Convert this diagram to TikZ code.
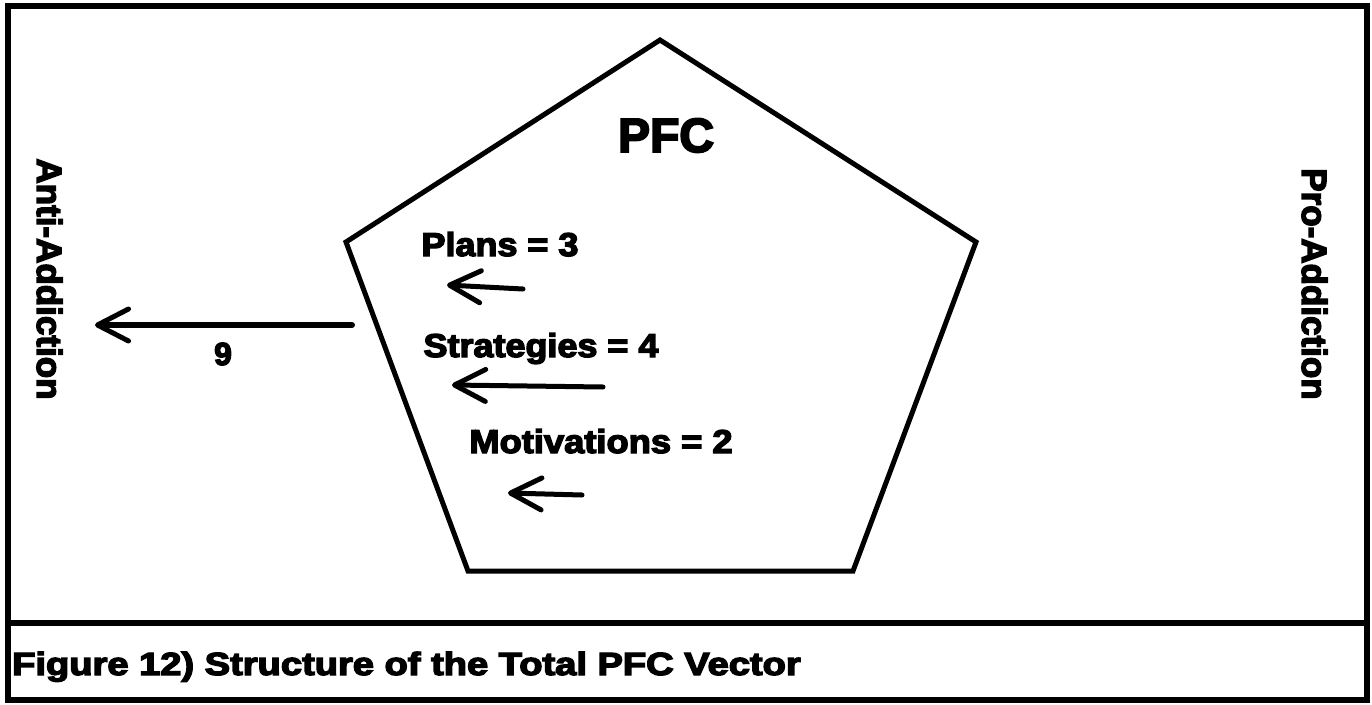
\documentclass[tikz,border=0pt]{standalone}
\usepackage{fontspec}
\setmainfont{Liberation Sans}
\newfontfamily\hv{Liberation Sans Bold}[FakeBold=4]
\usetikzlibrary{arrows.meta}
\begin{document}
\begin{tikzpicture}[x=1pt,y=-1pt,
  lbl/.style={inner sep=0pt, anchor=base},
  inner/.style={lbl, font=\hv\fontsize{33}{38}\selectfont},
  vec/.style={line width=5pt, line cap=round, -{Straight Barb[length=31pt,width=32pt,line width=5pt,round]}},
  frame/.style={line width=6pt},
  penta/.style={line width=5pt, line join=miter},
]
\useasboundingbox (0,0) rectangle (1372,704);
% frames
\draw[frame] (8,6) rectangle (1367,623);
\draw[frame] (8,623) rectangle (1367,700);
% pentagon
\coordinate (pt) at (660,40);
\coordinate (pr) at (976,242);
\coordinate (pbr) at (853,571);
\coordinate (pbl) at (468,571);
\coordinate (pl) at (346,242);
\draw[penta] (pt) -- (pr) -- (pbr) -- (pbl) -- (pl) -- cycle;
% texts
\node[lbl, font=\hv\fontsize{48}{56}\selectfont] (pfc) at (666,152) {PFC};
\node[inner] (plans) at (500,256) {\scalebox{1.09}[1]{Plans = 3}};
\node[inner] (strat) at (541,357) {\scalebox{1.09}[1]{Strategies = 4}};
\node[inner] (motiv) at (601,453) {\scalebox{1.1}[1]{Motivations = 2}};
\node[lbl, font=\hv\fontsize{32}{36}\selectfont] (nine) at (223,365) {9};
\node[lbl, font=\hv\fontsize{35}{40}\selectfont, rotate=-90] (anti) at (37,279) {Anti-Addiction};
\node[lbl, font=\hv\fontsize{35}{40}\selectfont, rotate=-90] (pro) at (1302,284) {Pro-Addiction};
\node[lbl, anchor=base west, font=\hv\fontsize{32}{38}\selectfont] (cap) at (12,675) {\scalebox{1.19}[1]{Figure 12) Structure of the Total PFC Vector}};
% arrows
\coordinate (a1s) at (523,289); \coordinate (a1e) at (447,285);
\coordinate (a2s) at (603,387); \coordinate (a2e) at (452,385);
\coordinate (a3s) at (582,495); \coordinate (a3e) at (508,493);
\coordinate (a9s) at (352,325); \coordinate (a9e) at (95,325);
\draw[vec] (a1s) -- (a1e);
\draw[vec] (a2s) -- (a2e);
\draw[vec] (a3s) -- (a3e);
\draw[vec, line width=6pt] (a9s) -- (a9e);
\end{tikzpicture}
\end{document}
